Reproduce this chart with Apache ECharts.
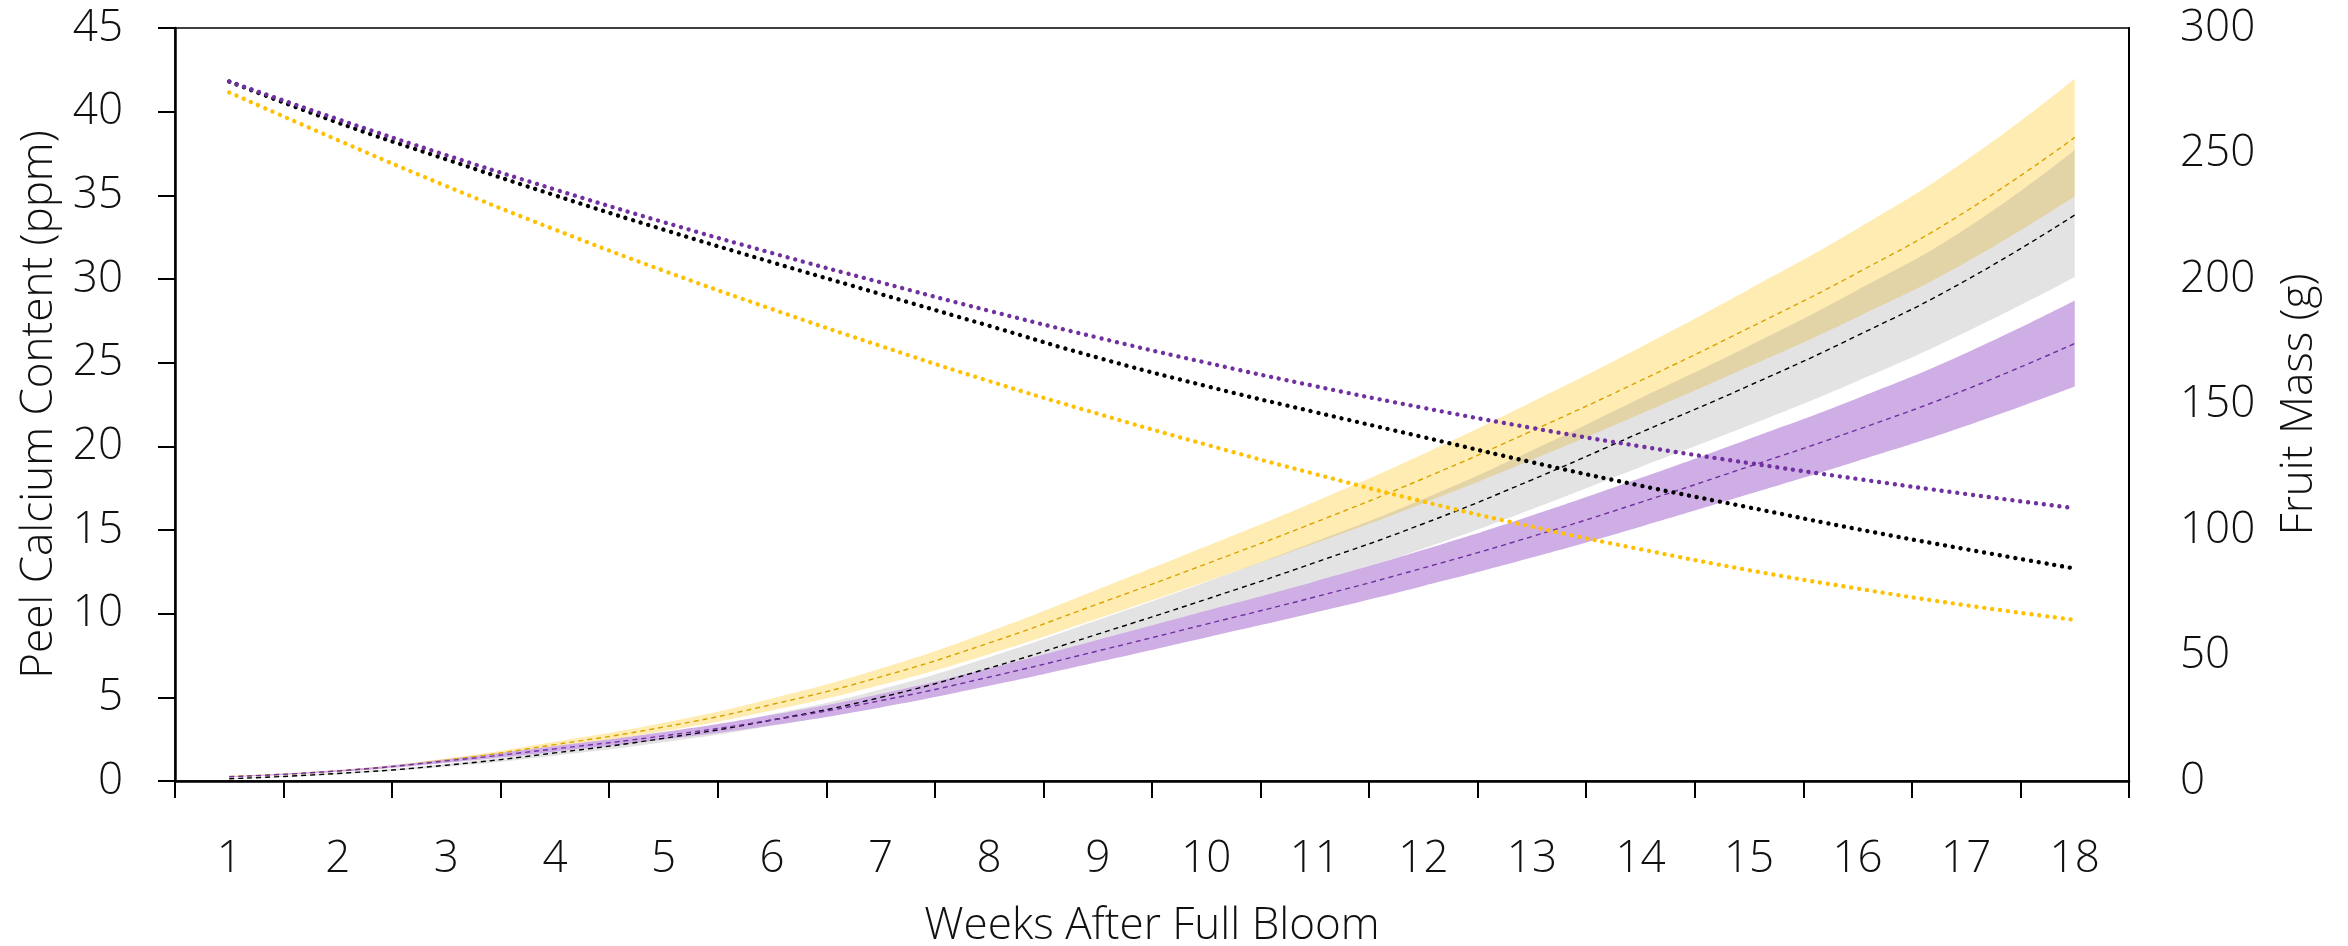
<!DOCTYPE html>
<html><head><meta charset="utf-8">
<script src="https://cdn.jsdelivr.net/npm/echarts@6/dist/echarts.min.js"></script>
<style>html,body{margin:0;padding:0;background:#fff}#c{width:2348px;height:946px}</style>
</head><body><div id="c"></div>
<script>
// ---- data ----
const weeks = ['1','2','3','4','5','6','7','8','9','10','11','12','13','14','15','16','17','18'];
const yAxisLeftTicks = [0,5,10,15,20,25,30,35,40,45];
const yAxisRightTicks = [0,50,100,150,200,250,300];

// Peel calcium content (ppm) - dotted lines, left axis
const calciumPurple = [41.8, 39.55, 37.4, 35.35, 33.4, 31.55, 29.8, 28.1, 26.5, 25.0, 23.6, 22.3, 21.1, 20.0, 19.0, 18.05, 17.15, 16.3];
const calciumBlack  = [41.8, 39.35, 37.15, 35.0, 32.95, 31.0, 29.1, 27.2, 25.3, 23.6, 22.05, 20.55, 19.05, 17.65, 16.35, 15.05, 13.85, 12.7];
const calciumGold   = [41.15, 38.3, 35.55, 32.95, 30.5, 28.2, 26.0, 23.9, 21.95, 20.1, 18.35, 16.7, 15.2, 13.85, 12.6, 11.5, 10.5, 9.63];

// Fruit mass (g) - dashed lines with bands, right axis
const massGold    = [1.8, 4.0, 8.3, 14.5, 21.5, 30.5, 41.5, 55, 70.5, 86.5, 103, 120.5, 139.5, 159.5, 180.5, 202.5, 227, 256.4];
const massGoldLo  = [1.6, 3.65, 7.65, 13.35, 19.8, 28.1, 38.2, 50.5, 64.7, 79.5, 94.7, 110.7, 128, 146.2, 165.1, 184.9, 206.7, 233];
const massGoldHi  = [2.0, 4.35, 8.95, 15.65, 23.2, 32.9, 44.8, 59.5, 76.3, 93.5, 111.3, 130.3, 151, 172.8, 195.9, 220.1, 247.3, 279.8];

const massBlack   = [0.9, 3.0, 6.3, 11.2, 17.0, 24.3, 33.3, 45.0, 58.5, 72.4, 87, 102.5, 120, 138.8, 157.5, 177.5, 199.5, 225.5];
const massBlackLo = [0.8, 2.7, 5.7, 10.1, 15.4, 22.0, 30.1, 40.7, 52.9, 65.5, 78.7, 92.6, 108.3, 125.1, 141.7, 159.4, 178.9, 200.8];
const massBlackHi = [1.0, 3.3, 6.9, 12.3, 18.6, 26.6, 36.5, 49.3, 64.1, 79.3, 95.3, 112.4, 131.7, 152.5, 173.3, 195.6, 220.1, 251.4];

const massPurple   = [1.7, 4.0, 8.0, 12.8, 18.0, 24.3, 32.0, 41.4, 51.8, 62.5, 73.3, 84.9, 97.4, 111, 125.3, 140, 156, 174.3];
const massPurpleLo = [1.55, 3.65, 7.3, 11.7, 16.5, 22.2, 29.3, 37.9, 47.4, 57.2, 67.1, 77.7, 89.0, 101.3, 114.3, 127.5, 141.5, 157.2];
const massPurpleHi = [1.85, 4.35, 8.7, 13.9, 19.5, 26.4, 34.7, 44.9, 56.2, 67.8, 79.5, 92.1, 105.8, 120.7, 136.3, 152.5, 170.5, 191.4];

// ---- chart ----
const FONT = '"Open Sans", "Noto Sans", sans-serif';
const txt = {fontFamily: FONT, fontWeight: 300, fontSize: 44, color: '#111'};

function band(key, lo, hi, color) {
  return [
    {name: key + ' lo', type: 'line', yAxisIndex: 1, stack: key, data: lo, smooth: true,
     symbol: 'none', lineStyle: {opacity: 0}, silent: true, z: 1},
    {name: key + ' band', type: 'line', yAxisIndex: 1, stack: key,
     data: hi.map((v, i) => +(v - lo[i]).toFixed(3)), smooth: true,
     symbol: 'none', lineStyle: {opacity: 0}, areaStyle: {color: color, opacity: 1}, silent: true, z: 1}
  ];
}
function dashed(name, data, color) {
  return {name, type: 'line', yAxisIndex: 1, data, smooth: true, symbol: 'none',
          lineStyle: {color, width: 1.4, type: [5, 4]}, z: 3};
}
function dotted(name, data, color) {
  return {name, type: 'line', yAxisIndex: 0, data, smooth: true, symbol: 'none',
          lineStyle: {color, width: 4.4, type: [0.01, 7.9], cap: 'round'}, z: 4};
}

const chart = echarts.init(document.getElementById('c'), null, {renderer: 'canvas'});
chart.setOption({
  animation: false,
  backgroundColor: '#fff',
  grid: {left: 175, right: 219, top: 28, bottom: 165, containLabel: false, outerBoundsMode: 'none',
         show: true, borderColor: '#000', borderWidth: 1.5, backgroundColor: 'transparent'},
  xAxis: {
    type: 'category', data: weeks, boundaryGap: true,
    axisLine: {lineStyle: {color: '#000', width: 2.5}},
    axisTick: {show: true, length: 17, alignWithLabel: false, lineStyle: {color: '#000', width: 2}},
    axisLabel: Object.assign({margin: 56}, txt),
    name: 'Weeks After Full Bloom', nameLocation: 'middle', nameGap: 123,
    nameTextStyle: txt
  },
  yAxis: [
    {type: 'value', min: yAxisLeftTicks[0], max: yAxisLeftTicks[yAxisLeftTicks.length - 1], interval: 5,
     splitLine: {show: false},
     axisLine: {show: true, lineStyle: {color: '#000', width: 2.5}},
     axisTick: {show: true, length: 17, lineStyle: {color: '#000', width: 2}},
     axisLabel: Object.assign({margin: 52}, txt),
     name: 'Peel Calcium Content (ppm)', nameLocation: 'middle', nameGap: 108, nameRotate: 90,
     nameTextStyle: txt},
    {type: 'value', position: 'right', min: yAxisRightTicks[0], max: yAxisRightTicks[yAxisRightTicks.length - 1], interval: 50,
     splitLine: {show: false},
     axisLine: {show: true, lineStyle: {color: '#000', width: 2}},
     axisTick: {show: false},
     axisLabel: Object.assign({margin: 51}, txt),
     name: 'Fruit Mass (g)', nameLocation: 'middle', nameGap: 148, nameRotate: 90,
     nameTextStyle: txt}
  ],
  series: [
    ...band('gold', massGoldLo, massGoldHi, 'rgba(255,192,0,0.30)'),
    ...band('black', massBlackLo, massBlackHi, 'rgba(128,128,128,0.22)'),
    ...band('purple', massPurpleLo, massPurpleHi, '#CEAEE5'),
    dashed('Fruit mass gold', massGold, '#D9A300'),
    dashed('Fruit mass black', massBlack, '#000000'),
    dashed('Fruit mass purple', massPurple, '#7030A0'),
    dotted('Calcium gold', calciumGold, '#FFC000'),
    dotted('Calcium black', calciumBlack, '#000000'),
    dotted('Calcium purple', calciumPurple, '#7030A0')
  ]
});
</script></body></html>
